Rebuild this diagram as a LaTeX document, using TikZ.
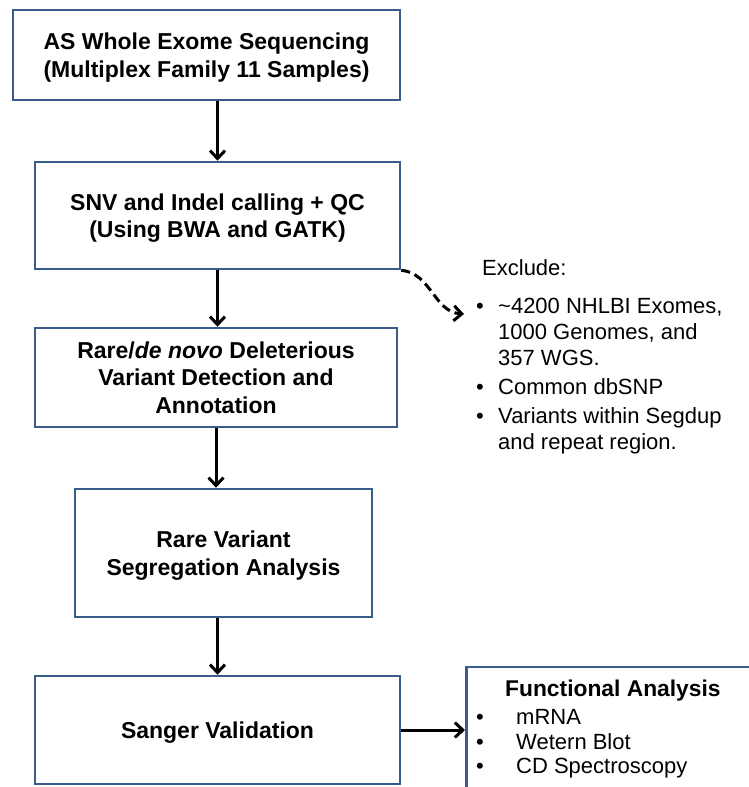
\documentclass[tikz,border=0pt]{standalone}
\usepackage{fontspec}
\setmainfont{Liberation Sans}
\usetikzlibrary{arrows.meta}
\definecolor{boxblue}{RGB}{56,93,138}

\begin{document}
\begin{tikzpicture}[x=1pt,y=-1pt,
    stage/.style={draw=boxblue,line width=2.5pt,align=center,inner sep=0pt,text depth=-1pt,
      font=\fontsize{23}{27.5}\selectfont\bfseries},
    flow/.style={line width=3pt,-{Straight Barb[length=8pt,width=15pt]}}]
  \useasboundingbox (0,0) rectangle (749,787);
  \clip (0,0) rectangle (749,787);
  % pipeline boxes
  \node[stage,minimum width=387pt,minimum height=90pt] (wes) at (206.5,55)
    {AS Whole Exome Sequencing\\(Multiplex Family 11 Samples)};
  \node[stage,minimum width=365pt,minimum height=107pt] (snv) at (217.5,215.5)
    {SNV and Indel calling + QC\\(Using BWA and GATK)};
  \node[stage,minimum width=362pt,minimum height=99pt] (rare) at (216,377.5)
    {Rare/\textit{de novo} Deleterious\\Variant Detection and\\Annotation};
  \node[stage,minimum width=297pt,minimum height=128pt] (seg) at (223.5,553)
    {Rare Variant\\Segregation Analysis};
  \node[stage,minimum width=365pt,minimum height=108pt] (sanger) at (217.5,730)
    {Sanger Validation};
  \node[stage,minimum width=300pt,minimum height=126pt,anchor=west] (func) at (465,730) {};
  % side texts
  \node[anchor=base west,inner sep=0pt,font=\fontsize{22}{26}\selectfont] (excl) at (476,275)
    {\begin{tabular}[t]{@{}p{22pt}@{}l@{}}
      \multicolumn{2}{@{}l@{}}{\hspace{6pt}Exclude:}\\[12pt]
      \textbullet & \textasciitilde4200 NHLBI Exomes,\\
                  & 1000 Genomes, and\\
                  & 357 WGS.\\[3pt]
      \textbullet & Common dbSNP\\[3pt]
      \textbullet & Variants within Segdup\\
                  & and repeat region.
    \end{tabular}};
  \node[anchor=base west,inner sep=0pt,font=\fontsize{22}{24.5}\selectfont] (functxt) at (476,696)
    {\begin{tabular}[t]{@{}p{40pt}@{}l@{}}
      \multicolumn{2}{@{}l@{}}{\hspace{29pt}\fontsize{22.8}{24.5}\selectfont\bfseries Functional Analysis}\\[4pt]
      \textbullet & mRNA\\
      \textbullet & Wetern Blot\\
      \textbullet & CD Spectroscopy
    \end{tabular}};
  \coordinate (exclin) at (464,314);
  % arrows
  \draw[flow] (wes.south -| snv.north) -- (snv.north);
  \draw[flow] (snv.south) -- (snv.south |- rare.north);
  \draw[flow] (rare.south) -- (rare.south |- seg.north);
  \draw[flow] (sanger.north |- seg.south) -- (sanger.north);
  \draw[flow] (sanger.east) -- (func.west);
  \draw[flow,dash pattern=on 9pt off 5pt] (snv.south east) .. controls +(30,3) and +(-30,-2) .. (exclin);
\end{tikzpicture}
\end{document}
